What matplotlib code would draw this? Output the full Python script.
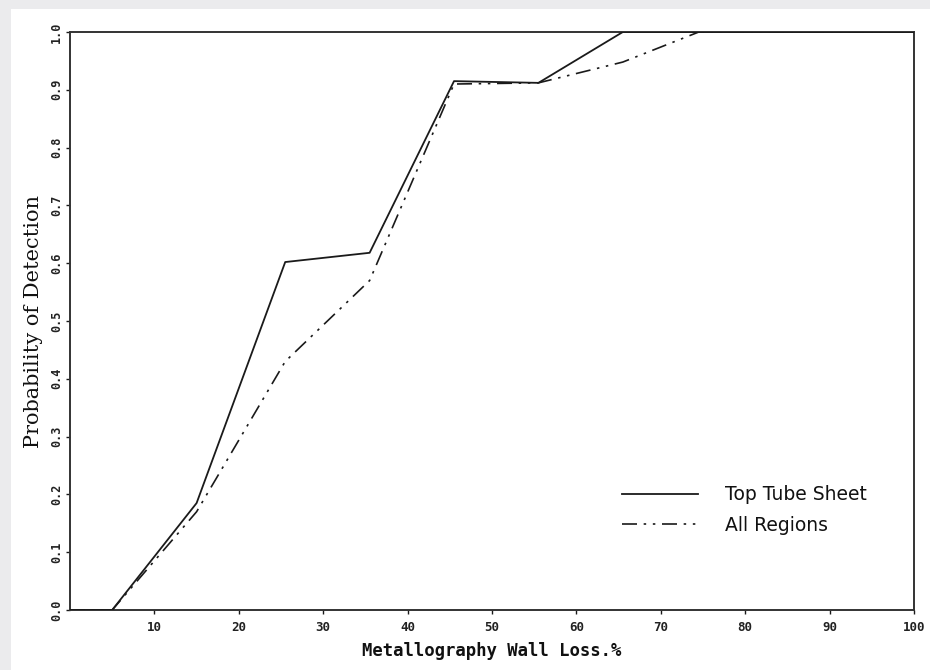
import matplotlib
matplotlib.use("Agg")
import matplotlib.pyplot as plt
from matplotlib.patches import Rectangle

# Data
x_top = [0, 5, 15, 25.5, 35.5, 45.5, 55.5, 65.5, 100]
y_top = [0.0, 0.0, 0.185, 0.602, 0.618, 0.915, 0.912, 1.0, 1.0]
x_all = [0, 5, 15, 25.5, 35.5, 45.5, 55.5, 65.5, 74.5, 100]
y_all = [0.0, 0.0, 0.17, 0.43, 0.57, 0.91, 0.912, 0.948, 1.0, 1.0]
series_names = ["Top Tube Sheet", "All Regions"]
x_ticks = [10, 20, 30, 40, 50, 60, 70, 80, 90, 100]
y_ticks = [0.0, 0.1, 0.2, 0.3, 0.4, 0.5, 0.6, 0.7, 0.8, 0.9, 1.0]
y_tick_labels = ["0.0", "0.1", "0.2", "0.3", "0.4", "0.5", "0.6", "0.7", "0.8", "0.9", "1.0"]

fig = plt.figure(figsize=(9.3, 6.7), dpi=100)
fig.patch.set_facecolor("#ebebed")
fig.patches.append(Rectangle((11 / 930, 0), 1, 1 - 9 / 670, transform=fig.transFigure,
                             facecolor="white", edgecolor="none", zorder=-10))

ax = fig.add_axes([70 / 930, 60 / 670, 844 / 930, 578 / 670])
ax.set_facecolor("white")

ink = "#1a1a1a"
ax.plot(x_top, y_top, color=ink, lw=1.3, label=series_names[0], zorder=3)
ax.plot(x_all, y_all, color=ink, lw=1.2, linestyle=(0, (9, 4, 1.5, 4, 1.5, 4)),
        label=series_names[1], zorder=3)

ax.set_xlim(0, 100)
ax.set_ylim(0, 1)
ax.set_xticks(x_ticks)
ax.set_xticklabels([str(v) for v in x_ticks], fontfamily="DejaVu Sans Mono",
                   fontsize=9, fontweight="bold", color="#222222")
ax.set_yticks(y_ticks)
ax.set_yticklabels(y_tick_labels, rotation=90, va="center",
                   fontfamily="DejaVu Sans Mono", fontsize=8.5, fontweight="bold",
                   color="#222222")
ax.tick_params(axis="both", direction="out", length=3, width=1, color=ink)
ax.tick_params(axis="x", pad=5)
ax.tick_params(axis="y", pad=2)

for s in ax.spines.values():
    s.set_color("#333333")
    s.set_linewidth(1.4)

ax.set_xlabel("Metallography Wall Loss.%", fontfamily="DejaVu Sans Mono",
              fontsize=12.4, fontweight="bold", color="#111111", labelpad=6)
ax.set_ylabel("Probability of Detection", fontfamily="DejaVu Serif",
              fontsize=15, color="#111111", labelpad=5)

leg = ax.legend(loc="upper left", bbox_to_anchor=(0.654, 0.216), frameon=False,
                borderpad=0, borderaxespad=0,
                handlelength=4.05, handletextpad=1.44, labelspacing=0.62,
                prop={"family": "DejaVu Sans", "size": 13.5})
for t in leg.get_texts():
    t.set_color("#111111")

fig.savefig("out.png", dpi=100, facecolor=fig.get_facecolor())
